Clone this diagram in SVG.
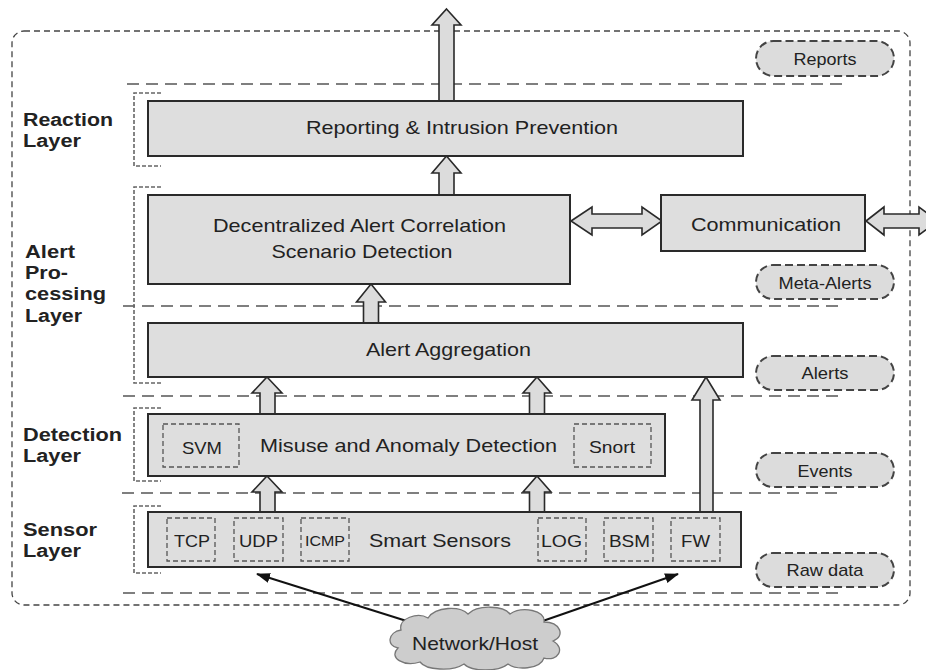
<svg xmlns="http://www.w3.org/2000/svg" width="926" height="670" viewBox="0 0 926 670">
  <style>
    text { font-family: "Liberation Sans", Arial, sans-serif; fill: #222; }
    .main { font-size: 18.5px; text-anchor: middle; }
    .small { font-size: 17px; text-anchor: middle; }
    .layer { font-size: 17.5px; font-weight: bold; }
    .box { fill: #dedede; stroke: #2a2a2a; stroke-width: 2; }
    .sub { fill: none; stroke: #555; stroke-width: 1.3; stroke-dasharray: 5 3; }
    .pill { fill: #dcdcdc; stroke: #444; stroke-width: 2; stroke-dasharray: 8 4; }
    .sep { fill: none; stroke: #555; stroke-width: 1.4; stroke-dasharray: 12 7; }
    .bracket { fill: none; stroke: #666; stroke-width: 1.6; stroke-dasharray: 4 2; }
    .block { fill: #dcdcdc; stroke: #2a2a2a; stroke-width: 1.6; stroke-linejoin: miter; }
    .feed { fill: none; stroke: #111; stroke-width: 2; }
  </style>
  <defs>
    <marker id="head" viewBox="0 0 14 10" refX="13" refY="5" markerWidth="14" markerHeight="10" markerUnits="userSpaceOnUse" orient="auto">
      <path d="M0,0 L14,5 L0,10 Z" fill="#111"/>
    </marker>
  </defs>

  <rect width="926" height="670" fill="#fff"/>

  <!-- system boundary -->
  <rect x="12" y="31" width="898" height="574" rx="12" fill="none" stroke="#444" stroke-width="1.3" stroke-dasharray="6 4"/>

  <!-- layer separators -->
  <g id="separators">
    <line class="sep" x1="127" y1="84" x2="846" y2="84"/>
    <line class="sep" x1="123" y1="306" x2="841" y2="306"/>
    <line class="sep" x1="123" y1="396" x2="841" y2="396"/>
    <line class="sep" x1="122" y1="493" x2="840" y2="493"/>
    <line class="sep" x1="123" y1="593" x2="840" y2="593"/>
  </g>

  <!-- layer brackets and labels -->
  <g id="layer-reaction">
    <path class="bracket" d="M161,93 H134 V166 H161"/>
    <text class="layer" x="23" y="126" textLength="90" lengthAdjust="spacingAndGlyphs">Reaction</text>
    <text class="layer" x="23" y="147" textLength="58" lengthAdjust="spacingAndGlyphs">Layer</text>
  </g>
  <g id="layer-alert-processing">
    <path class="bracket" d="M161,187 H134 V383 H161"/>
    <text class="layer" x="25" y="258" textLength="50" lengthAdjust="spacingAndGlyphs">Alert</text>
    <text class="layer" x="25" y="279" textLength="43" lengthAdjust="spacingAndGlyphs">Pro-</text>
    <text class="layer" x="25" y="300" textLength="81" lengthAdjust="spacingAndGlyphs">cessing</text>
    <text class="layer" x="25" y="322" textLength="57" lengthAdjust="spacingAndGlyphs">Layer</text>
  </g>
  <g id="layer-detection">
    <path class="bracket" d="M161,408 H134 V481 H161"/>
    <text class="layer" x="23" y="441" textLength="99" lengthAdjust="spacingAndGlyphs">Detection</text>
    <text class="layer" x="23" y="462" textLength="58" lengthAdjust="spacingAndGlyphs">Layer</text>
  </g>
  <g id="layer-sensor">
    <path class="bracket" d="M161,506 H134 V573 H161"/>
    <text class="layer" x="23" y="536" textLength="74" lengthAdjust="spacingAndGlyphs">Sensor</text>
    <text class="layer" x="23" y="557" textLength="58" lengthAdjust="spacingAndGlyphs">Layer</text>
  </g>

  <!-- data type labels -->
  <g id="label-reports">
    <rect class="pill" x="756" y="41" width="138" height="35" rx="17.5"/>
    <text class="small" x="825" y="65" textLength="63" lengthAdjust="spacingAndGlyphs">Reports</text>
  </g>
  <g id="label-meta-alerts">
    <rect class="pill" x="756" y="265" width="138" height="34" rx="17"/>
    <text class="small" x="825" y="289" textLength="93" lengthAdjust="spacingAndGlyphs">Meta-Alerts</text>
  </g>
  <g id="label-alerts">
    <rect class="pill" x="756" y="356" width="138" height="34" rx="17"/>
    <text class="small" x="825" y="379" textLength="47" lengthAdjust="spacingAndGlyphs">Alerts</text>
  </g>
  <g id="label-events">
    <rect class="pill" x="756" y="453" width="138" height="34" rx="17"/>
    <text class="small" x="825" y="477" textLength="55" lengthAdjust="spacingAndGlyphs">Events</text>
  </g>
  <g id="label-raw-data">
    <rect class="pill" x="756" y="553" width="138" height="34" rx="17"/>
    <text class="small" x="825" y="576" textLength="77" lengthAdjust="spacingAndGlyphs">Raw data</text>
  </g>

  <!-- connectors -->
  <g id="connectors">
    <!-- output of the reaction layer -->
    <polygon class="block" points="446.5,9 461,25 454,25 454,101 439,101 439,25 432,25"/>
    <!-- correlation to reaction -->
    <polygon class="block" points="446.5,156 461,173 454,173 454,195 439,195 439,173 432,173"/>
    <!-- aggregation to correlation -->
    <polygon class="block" points="371,284 385.5,302 378.5,302 378.5,323 363.5,323 363.5,302 356.5,302"/>
    <!-- detection to aggregation -->
    <polygon class="block" points="267,377 282,393 275,393 275,414 260,414 260,393 252,393"/>
    <polygon class="block" points="537,377 551,393 544.5,393 544.5,414 529.5,414 529.5,393 523,393"/>
    <!-- sensors to detection -->
    <polygon class="block" points="267,476 282,492 275,492 275,512 260,512 260,492 252,492"/>
    <polygon class="block" points="537,476 551,492 544.5,492 544.5,512 529.5,512 529.5,492 523,492"/>
    <!-- firewall events straight to aggregation -->
    <polygon class="block" points="706,377 720,400 713,400 713,512 700,512 700,400 692,400"/>
    <!-- correlation <-> communication -->
    <polygon class="block" points="571,221 592,207 592,214 642,214 642,207 662,221 642,235 642,228 592,228 592,235"/>
    <!-- communication <-> other nodes -->
    <polygon class="block" points="866,221 884,207 884,214 919,214 919,207 938,221 919,235 919,228 884,228 884,235"/>
    <!-- network/host feeds -->
    <line class="feed" x1="413" y1="623" x2="257" y2="574" marker-end="url(#head)"/>
    <line class="feed" x1="537" y1="623" x2="678" y2="574" marker-end="url(#head)"/>
  </g>

  <!-- nodes -->
  <g id="reporting">
    <rect class="box" x="148" y="101" width="595" height="55"/>
    <text class="main" x="462" y="134" textLength="312" lengthAdjust="spacingAndGlyphs">Reporting &amp; Intrusion Prevention</text>
  </g>
  <g id="correlation">
    <rect class="box" x="148" y="195" width="422" height="89"/>
    <text class="main" x="359.5" y="232" textLength="293" lengthAdjust="spacingAndGlyphs">Decentralized Alert Correlation</text>
    <text class="main" x="362" y="258" textLength="181" lengthAdjust="spacingAndGlyphs">Scenario Detection</text>
  </g>
  <g id="communication">
    <rect class="box" x="661" y="195" width="204" height="56"/>
    <text class="main" x="766" y="231" textLength="150" lengthAdjust="spacingAndGlyphs">Communication</text>
  </g>
  <g id="aggregation">
    <rect class="box" x="148" y="323" width="595" height="54"/>
    <text class="main" x="448.5" y="356" textLength="165" lengthAdjust="spacingAndGlyphs">Alert Aggregation</text>
  </g>
  <g id="detection">
    <rect class="box" x="148" y="414" width="517" height="62"/>
    <rect class="sub" x="163" y="424" width="76" height="43"/>
    <text class="small" x="202" y="454" textLength="40" lengthAdjust="spacingAndGlyphs">SVM</text>
    <text class="main" x="408.5" y="452" textLength="297" lengthAdjust="spacingAndGlyphs">Misuse and Anomaly Detection</text>
    <rect class="sub" x="574" y="424" width="77" height="43"/>
    <text class="small" x="612" y="453" textLength="46" lengthAdjust="spacingAndGlyphs">Snort</text>
  </g>
  <g id="sensors">
    <rect class="box" x="148" y="512" width="593" height="55"/>
    <rect class="sub" x="167" y="518" width="48" height="43"/>
    <text class="small" x="192" y="547" textLength="36" lengthAdjust="spacingAndGlyphs">TCP</text>
    <rect class="sub" x="234" y="518" width="49" height="43"/>
    <text class="small" x="258.5" y="547" textLength="39" lengthAdjust="spacingAndGlyphs">UDP</text>
    <rect class="sub" x="301" y="518" width="48" height="43"/>
    <text class="small" x="325" y="546" style="font-size:15.5px" textLength="40" lengthAdjust="spacingAndGlyphs">ICMP</text>
    <text class="main" x="440" y="547" textLength="142" lengthAdjust="spacingAndGlyphs">Smart Sensors</text>
    <rect class="sub" x="538" y="518" width="48" height="43"/>
    <text class="small" x="561.5" y="547" textLength="41" lengthAdjust="spacingAndGlyphs">LOG</text>
    <rect class="sub" x="604" y="518" width="49" height="43"/>
    <text class="small" x="629.5" y="547" textLength="41" lengthAdjust="spacingAndGlyphs">BSM</text>
    <rect class="sub" x="671" y="518" width="49" height="43"/>
    <text class="small" x="695.5" y="547" textLength="29" lengthAdjust="spacingAndGlyphs">FW</text>
  </g>
  <g id="network-host">
    <path d="M398,648 C386,646 388,632 401,630 C398,618 418,612 428,618 C436,606 460,606 468,614 C478,604 504,606 510,614 C522,606 546,610 544,622 C560,622 566,636 553,641 C566,648 558,662 544,658 C540,670 516,670 508,664 C498,672 472,672 464,664 C452,672 426,670 420,662 C404,667 388,658 398,648 Z" fill="#cdcdcd" stroke="#777" stroke-width="1.3"/>
    <text class="main" x="475" y="649.5" textLength="126" lengthAdjust="spacingAndGlyphs">Network/Host</text>
  </g>
</svg>
